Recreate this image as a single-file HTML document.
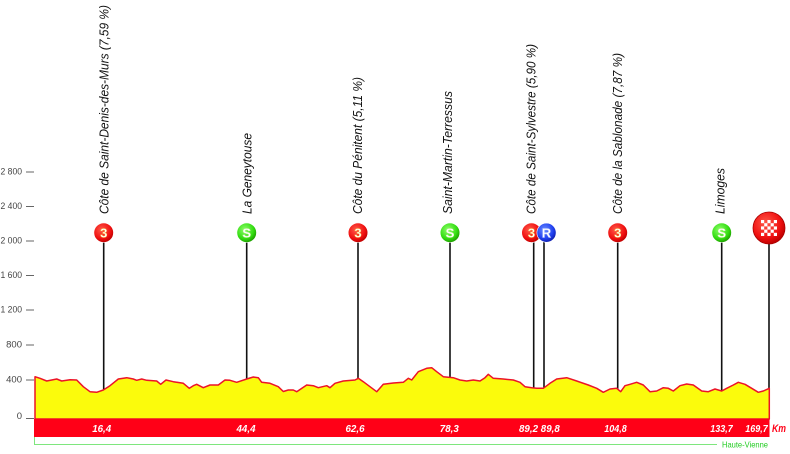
<!DOCTYPE html>
<html><head><meta charset="utf-8"><style>
html,body{margin:0;padding:0;background:#fff;}
svg{display:block;}
</style></head><body>
<svg width="790" height="454" viewBox="0 0 790 454" xmlns="http://www.w3.org/2000/svg">
<defs>
<radialGradient id="gr" cx="40%" cy="35%" r="65%"><stop offset="0" stop-color="#ff5a4a"/><stop offset="0.7" stop-color="#f01010"/><stop offset="1" stop-color="#c00000"/></radialGradient>
<radialGradient id="gg" cx="40%" cy="35%" r="65%"><stop offset="0" stop-color="#8dff6a"/><stop offset="0.7" stop-color="#33dd11"/><stop offset="1" stop-color="#1fa000"/></radialGradient>
<radialGradient id="gb" cx="40%" cy="35%" r="65%"><stop offset="0" stop-color="#6a8cff"/><stop offset="0.7" stop-color="#2040f0"/><stop offset="1" stop-color="#1020b0"/></radialGradient>
</defs>

<!-- y axis -->
<g font-family="Liberation Sans, sans-serif" font-size="9.5" fill="#444" text-anchor="end">
<text x="22" y="174.5" textLength="21.5" lengthAdjust="spacingAndGlyphs">2 800</text>
<text x="22" y="209" textLength="21.5" lengthAdjust="spacingAndGlyphs">2 400</text>
<text x="22" y="243.5" textLength="21.5" lengthAdjust="spacingAndGlyphs">2 000</text>
<text x="22" y="278" textLength="21.5" lengthAdjust="spacingAndGlyphs">1 600</text>
<text x="22" y="312.5" textLength="21.5" lengthAdjust="spacingAndGlyphs">1 200</text>
<text x="22" y="347.5">800</text>
<text x="22" y="382.5">400</text>
<text x="22" y="419">0</text>
</g>
<g stroke="#666" stroke-width="1">
<line x1="26" y1="172" x2="34" y2="172"/>
<line x1="26" y1="206.5" x2="34" y2="206.5"/>
<line x1="26" y1="241" x2="34" y2="241"/>
<line x1="26" y1="275.5" x2="34" y2="275.5"/>
<line x1="26" y1="310" x2="34" y2="310"/>
<line x1="26" y1="345" x2="34" y2="345"/>
<line x1="26" y1="380" x2="34" y2="380"/>
<line x1="26" y1="418.5" x2="34" y2="418.5"/>
</g>

<!-- vertical marker lines -->
<g stroke="#111" stroke-width="1.6">
<line x1="103.7" y1="240" x2="103.7" y2="391"/>
<line x1="246.7" y1="240" x2="246.7" y2="380"/>
<line x1="358" y1="240" x2="358" y2="379"/>
<line x1="450" y1="240" x2="450" y2="378"/>
<line x1="533.7" y1="240" x2="533.7" y2="388"/>
<line x1="544" y1="240" x2="544" y2="388"/>
<line x1="617.7" y1="240" x2="617.7" y2="389"/>
<line x1="721.7" y1="240" x2="721.7" y2="391"/>
<line x1="769" y1="240" x2="769" y2="389"/>
</g>

<!-- profile -->
<path d="M35,419 L35,376.7 L40,378.3 L46.7,381 L56.7,379 L61.7,381 L70,379.7 L76.7,380 L83.3,386.7 L90,391.7 L96.7,392.3 L103.3,390 L110,385.7 L118.3,379 L126.7,377.7 L133.3,379 L136.7,380.3 L141.7,379 L146.7,380.3 L156.7,381 L160.7,384.3 L166,380 L173.3,381.7 L183.3,383.3 L189.3,388.3 L193.3,385.7 L196.7,384.3 L203.3,387.7 L210,385 L218.3,385 L225,380 L230,380.3 L236.7,382.3 L246.7,379 L253.3,377 L258.3,377.7 L261.7,382.3 L270,383.3 L278.3,386.7 L283.3,391.5 L288.3,390 L293.3,390 L296.7,391.7 L306.7,385 L313.3,385.7 L318.3,387.7 L326.7,385.7 L330,387.7 L335,383.3 L343.3,381 L355,380 L358.3,378.3 L363.3,381.7 L370,386.7 L376.7,391.7 L383.3,384.3 L393.3,383 L403.3,382.3 L408.3,378.3 L411.7,380 L418.3,371.7 L426.7,368.3 L431.7,367.7 L436.7,371.7 L443.3,376.7 L453.3,377.7 L460,380 L466.7,381 L473.3,380 L480,381 L485,377.7 L488.3,374.3 L493.3,378.3 L503.3,379 L513.3,380 L520,382.3 L525,386.7 L531.7,387.7 L536.7,388.3 L543.3,388.3 L550,383.3 L556.7,379 L566.7,377.7 L576.7,381 L588.3,385 L596.7,388.3 L603.3,392.3 L610,389 L616.7,388.3 L620.7,391.7 L625,385.7 L630,384.3 L636.7,382.3 L643.3,385 L650,391.7 L656.7,391 L663.3,387.7 L668.3,388.3 L673.3,391 L680,385.7 L686.7,384 L693.3,385 L701.7,391 L708.3,391.7 L715,389 L721.7,391 L726.7,388.3 L733.3,385 L738.3,382.3 L745,384.3 L751.7,388.3 L758.3,392.3 L763.3,391 L769.3,388.3 L769.3,419 Z" fill="#fbfb0c" stroke="#ec1328" stroke-width="1.5" stroke-linejoin="round"/>

<!-- km bar -->
<rect x="34" y="419" width="735.5" height="18" fill="#ff0017"/>
<g font-family="Liberation Sans, sans-serif" font-size="10.5" font-weight="bold" font-style="italic" fill="#fff" text-anchor="middle">
<text x="101.7" y="432" textLength="19" lengthAdjust="spacingAndGlyphs">16,4</text>
<text x="246" y="432" textLength="19" lengthAdjust="spacingAndGlyphs">44,4</text>
<text x="355" y="432" textLength="19" lengthAdjust="spacingAndGlyphs">62,6</text>
<text x="449.3" y="432" textLength="19" lengthAdjust="spacingAndGlyphs">78,3</text>
<text x="528.5" y="432" textLength="19" lengthAdjust="spacingAndGlyphs">89,2</text>
<text x="550.3" y="432" textLength="19" lengthAdjust="spacingAndGlyphs">89,8</text>
<text x="615.5" y="432" textLength="22.5" lengthAdjust="spacingAndGlyphs">104,8</text>
<text x="721.5" y="432" textLength="22.5" lengthAdjust="spacingAndGlyphs">133,7</text>
<text x="756.5" y="432" textLength="22.5" lengthAdjust="spacingAndGlyphs">169,7</text>
</g>
<text x="772" y="432" font-family="Liberation Sans, sans-serif" font-size="11" font-weight="bold" font-style="italic" fill="#ff0017" textLength="14" lengthAdjust="spacingAndGlyphs">Km</text>

<!-- region line -->
<path d="M34.5,437 L34.5,444.5 L717,444.5" fill="none" stroke="#7ee67e" stroke-width="1"/>
<text x="722" y="447.5" font-family="Liberation Sans, sans-serif" font-size="8.5" fill="#22cc22" textLength="46" lengthAdjust="spacingAndGlyphs">Haute-Vienne</text>

<!-- rotated labels -->
<g font-family="Liberation Sans, sans-serif" font-size="13" font-style="italic" fill="#111">
<text transform="translate(108.3,214) rotate(-90)" textLength="209" lengthAdjust="spacingAndGlyphs">Côte de Saint-Denis-des-Murs (7,59 %)</text>
<text transform="translate(251.7,214) rotate(-90)" textLength="81" lengthAdjust="spacingAndGlyphs">La Geneytouse</text>
<text transform="translate(362,214) rotate(-90)" textLength="137" lengthAdjust="spacingAndGlyphs">Côte du Pénitent (5,11 %)</text>
<text transform="translate(452.2,214) rotate(-90)" textLength="123" lengthAdjust="spacingAndGlyphs">Saint-Martin-Terressus</text>
<text transform="translate(535.3,214) rotate(-90)" textLength="170" lengthAdjust="spacingAndGlyphs">Côte de Saint-Sylvestre (5,90 %)</text>
<text transform="translate(622,214) rotate(-90)" textLength="161" lengthAdjust="spacingAndGlyphs">Côte de la Sablonade (7,87 %)</text>
<text transform="translate(724.5,214) rotate(-90)" textLength="46" lengthAdjust="spacingAndGlyphs">Limoges</text>
</g>

<!-- badges -->
<g font-family="Liberation Sans, sans-serif" font-size="13" font-weight="bold" text-anchor="middle" fill="#fff" stroke="#f7c040" stroke-width="0.4">
<circle cx="103.7" cy="232.7" r="9.8" fill="url(#gr)" stroke="#fff" stroke-width="0.6"/>
<text x="103.7" y="237.5">3</text>
<circle cx="246.7" cy="232.7" r="9.8" fill="url(#gg)" stroke="#fff" stroke-width="0.6"/>
<text x="246.7" y="237.5" stroke="#c8f0a0">S</text>
<circle cx="358" cy="232.7" r="9.8" fill="url(#gr)" stroke="#fff" stroke-width="0.6"/>
<text x="358" y="237.5">3</text>
<circle cx="450" cy="232.7" r="9.8" fill="url(#gg)" stroke="#fff" stroke-width="0.6"/>
<text x="450" y="237.5" stroke="#c8f0a0">S</text>
<circle cx="531.5" cy="232.7" r="9.8" fill="url(#gr)" stroke="#fff" stroke-width="0.6"/>
<text x="531.5" y="237.5">3</text>
<circle cx="546.5" cy="232.7" r="9.6" fill="url(#gb)" stroke="#fff" stroke-width="0.6"/>
<text x="546.5" y="237.5" stroke="#b0c0ff">R</text>
<circle cx="617.7" cy="232.7" r="9.8" fill="url(#gr)" stroke="#fff" stroke-width="0.6"/>
<text x="617.7" y="237.5">3</text>
<circle cx="721.7" cy="232.7" r="9.8" fill="url(#gg)" stroke="#fff" stroke-width="0.6"/>
<text x="721.7" y="237.5" stroke="#c8f0a0">S</text>
</g>

<!-- finish -->
<circle cx="769" cy="228" r="16" fill="url(#gr)" stroke="#a00" stroke-width="0.8"/>
<g fill="#fff">
<rect x="761" y="220" width="3.2" height="3.2"/><rect x="767.4" y="220" width="3.2" height="3.2"/><rect x="773.8" y="220" width="3.2" height="3.2"/>
<rect x="764.2" y="223.2" width="3.2" height="3.2"/><rect x="770.6" y="223.2" width="3.2" height="3.2"/>
<rect x="761" y="226.4" width="3.2" height="3.2"/><rect x="767.4" y="226.4" width="3.2" height="3.2"/><rect x="773.8" y="226.4" width="3.2" height="3.2"/>
<rect x="764.2" y="229.6" width="3.2" height="3.2"/><rect x="770.6" y="229.6" width="3.2" height="3.2"/>
<rect x="761" y="232.8" width="3.2" height="3.2"/><rect x="767.4" y="232.8" width="3.2" height="3.2"/><rect x="773.8" y="232.8" width="3.2" height="3.2"/>
</g>
</svg>
</body></html>
